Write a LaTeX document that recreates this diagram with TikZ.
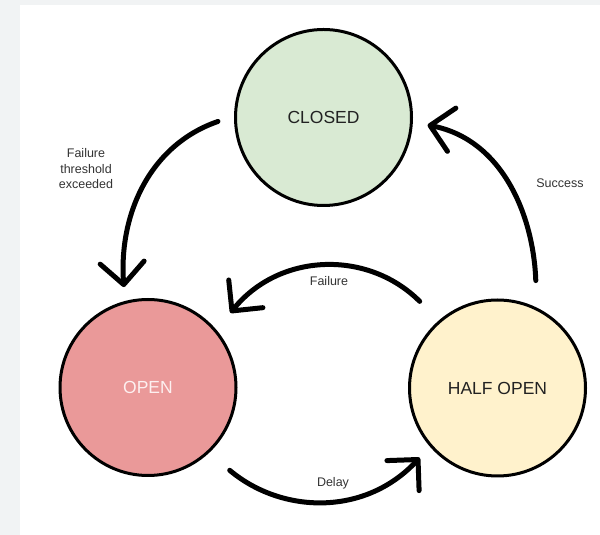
\documentclass[tikz,border=0pt]{standalone}
\usepackage{fontspec}
\setmainfont{Liberation Sans}
\usetikzlibrary{arrows.meta}
\definecolor{bggray}{HTML}{F1F3F4}
\definecolor{closedfill}{HTML}{D9EAD3}
\definecolor{openfill}{HTML}{EA9999}
\definecolor{halffill}{HTML}{FFF2CC}
\definecolor{labelgray}{HTML}{333333}
\definecolor{opentext}{HTML}{FDF0F0}
\definecolor{darktext}{HTML}{222222}
\begin{document}
\begin{tikzpicture}[x=1pt,y=1pt,
  state/.style={circle, draw=black, line width=3pt, minimum size=176pt, inner sep=0pt,
    font=\fontsize{17.5}{21}\selectfont},
  flow/.style={line width=5pt, line cap=round,
    -{Straight Barb[length=22pt,width=44pt,round]}},
  lbl/.style={font=\fontsize{12.5}{15.5}\selectfont, text=labelgray, align=center, inner sep=0pt}]
\fill[bggray] (0,0) rectangle (600,535);
\fill[white] (20,0) rectangle (600,530);
\useasboundingbox (0,0) rectangle (600,535);

\node[state, fill=closedfill, text=darktext] (closed) at (323.5,417.5) {CLOSED};
\node[state, fill=openfill, text=opentext] (open) at (148,147.5) {OPEN};
\node[state, fill=halffill, text=darktext] (half) at (497.5,147) {HALF OPEN};

\draw[flow, shorten <=17pt, shorten >=14pt] (closed.179) to[out=199, in=94, looseness=1.05] (open.105);
\draw[flow, shorten <=27pt, shorten >=22pt] (half.131) to[out=135, in=51, looseness=1.15] (open.40);
\draw[flow, shorten <=27pt, shorten >=15pt] (open.-47) to[out=-40, in=227, looseness=1.1] (half.221);
\draw[flow, shorten <=27pt, shorten >=15pt] (half.64) to[out=92, in=-11, looseness=1.05] (closed.-3);

\node[lbl] (lthr) at (86,366) {Failure\\threshold\\exceeded};
\node[lbl] (lfail) at (329,254) {Failure};
\node[lbl] (ldelay) at (333,52) {Delay};
\node[lbl] (lsucc) at (560,352) {Success};
\end{tikzpicture}
\end{document}
